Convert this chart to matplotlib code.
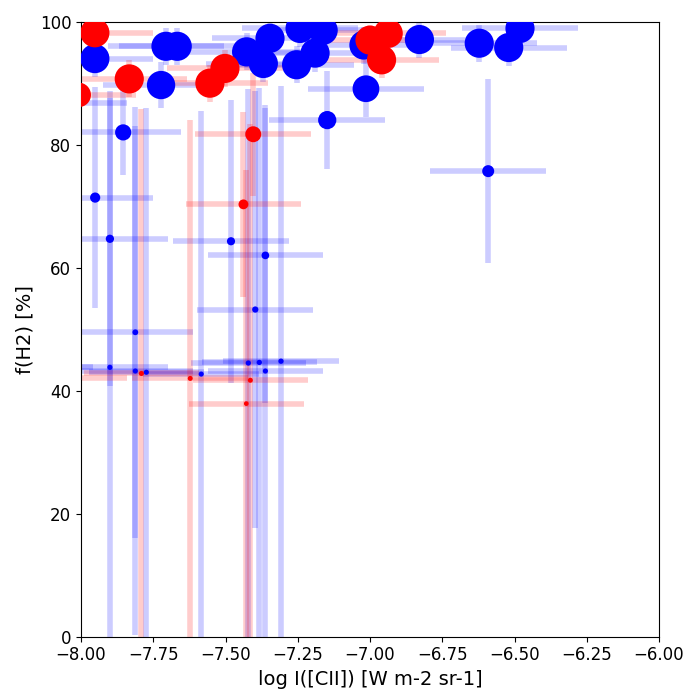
import numpy as np
import matplotlib
matplotlib.use("Agg")
import matplotlib.pyplot as plt

# ---- data: blue sample ----
blue_x = [-7.952, -7.706, -7.667, -7.723, -7.427, -7.346, -7.369, -7.254, -7.242,
          -7.162, -7.190, -7.014, -7.021, -6.829, -6.622, -6.481, -6.520,
          -7.854, -7.148, -6.591, -7.951, -7.900, -7.481, -7.362, -7.397,
          -7.812, -7.900, -7.812, -7.774, -7.584, -7.421, -7.383, -7.308, -7.362,
          -8.04, -8.16]
blue_y = [94.0, 96.0, 96.0, 89.7, 95.1, 97.3, 93.2, 93.0, 98.9,
          98.6, 94.9, 89.1, 96.2, 97.1, 96.5, 98.9, 95.8,
          82.0, 84.0, 75.7, 71.4, 64.7, 64.3, 62.0, 53.2,
          49.5, 43.8, 43.2, 43.0, 42.7, 44.5, 44.6, 44.8, 43.2,
          86.7, 43.8]
blue_yerr = [3.0, 3.0, 3.0, 3.8, 3.0, 3.0, 3.0, 3.0, 3.0,
             3.0, 3.0, 4.6, 3.0, 3.0, 3.0, 3.0, 3.0,
             7.0, 8.0, 15.0, 18.0, 24.0, 23.0, 24.0, 35.5,
             33.5, 43.8, 43.0, 43.0, 42.7, 44.5, 44.6, 44.8, 43.2,
             3.0, 43.0]
blue_xerr = [0.2] * len(blue_x)

# ---- data: red sample ----
red_x = [-7.952, -8.008, -7.833, -7.554, -7.502, -7.000, -6.937, -6.960,
         -7.404, -7.438, -7.791, -7.622, -7.414, -7.428, -8.04]
red_y = [98.2, 88.1, 90.7, 90.0, 92.4, 97.0, 98.1, 93.8,
         81.7, 70.3, 42.8, 42.0, 41.7, 37.9, 42.0]
red_yerr = [2.0, 3.0, 3.0, 3.0, 3.0, 2.5, 2.0, 3.0,
            10.0, 15.0, 43.0, 42.0, 41.7, 38.0, 42.0]
red_xerr = [0.2] * len(red_x)


def marker_size(f):
    f = np.asarray(f) / 100.0
    return np.minimum(2.1 / (1.0 - f), 21.0)


fig = plt.figure(figsize=(7, 7), dpi=100)
ax = fig.add_axes([81 / 700, 1 - 636.7 / 700, (659 - 81) / 700, (636.7 - 21.7) / 700])

ax.errorbar(blue_x, blue_y, xerr=blue_xerr, yerr=blue_yerr, fmt='none',
            ecolor='blue', alpha=0.2, elinewidth=4, capsize=0, zorder=1)
ax.errorbar(red_x, red_y, xerr=red_xerr, yerr=red_yerr, fmt='none',
            ecolor='red', alpha=0.2, elinewidth=4, capsize=0, zorder=1)

ax.scatter(blue_x, blue_y, s=marker_size(blue_y) ** 2, c='blue',
           linewidths=0, zorder=3)
ax.scatter(red_x, red_y, s=marker_size(red_y) ** 2, c='red',
           linewidths=0, zorder=4)

ax.set_xlim(-8, -6)
ax.set_ylim(0, 100)
ax.tick_params(labelsize=12)
ax.set_xlabel('log I([CII]) [W m-2 sr-1]', fontsize=14)
ax.set_ylabel('f(H2) [%]', fontsize=14)

fig.savefig('out.png', dpi=100)
